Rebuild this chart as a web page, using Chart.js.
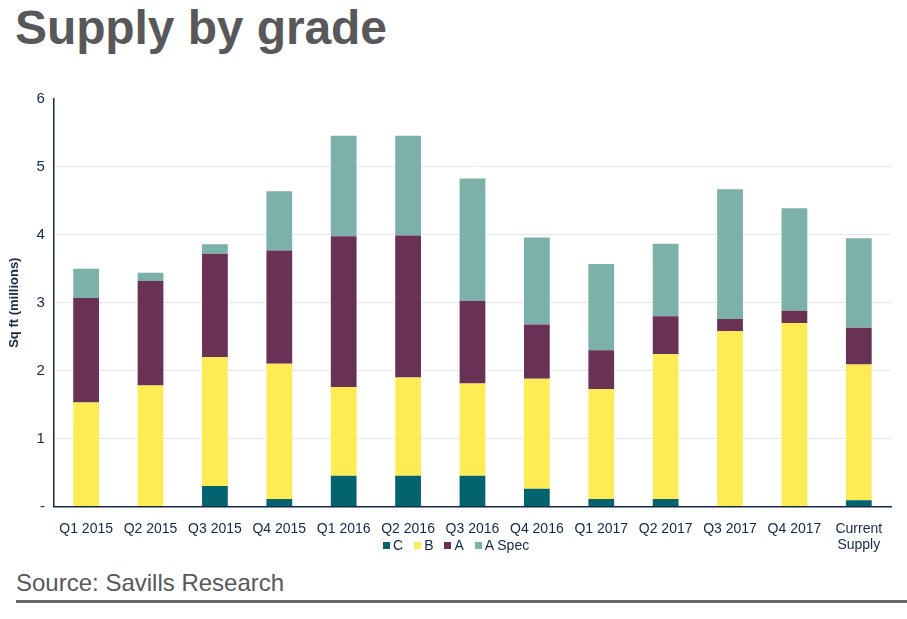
<!DOCTYPE html>
<html lang="en">
<head>
    <meta charset="UTF-8">
    <title>Supply by grade</title>
    <style>
        body {
            margin: 0;
            width: 907px;
            height: 619px;
            background: #fff;
            font-family: "Liberation Sans", Arial, sans-serif;
            position: relative;
            overflow: hidden;
        }
        .title {
            position: absolute;
            left: 15px;
            top: 0;
            font-size: 48px;
            font-weight: bold;
            color: #58585a;
            letter-spacing: -0.1px;
        }
        .chart-box {
            position: absolute;
            left: 0;
            top: 81px;
            width: 907px;
            height: 479px;
        }
        .legend {
            position: absolute;
            left: 383px;
            top: 537px;
            display: flex;
            font-size: 14px;
            color: #14284b;
            line-height: 16px;
        }
        .legend span.item { display: flex; align-items: center; margin-right: 11px; }
        .legend i { display: inline-block; width: 7px; height: 7px; margin-right: 3px; }
        .source {
            position: absolute;
            left: 16px;
            top: 569px;
            font-size: 24px;
            color: #58585a;
        }
        .rule {
            position: absolute;
            left: 16px;
            right: 0;
            top: 600px;
            height: 3px;
            background: #68686c;
        }
    </style>
</head>
<body>
    <div class="title">Supply by grade</div>
    <div class="chart-box"><canvas id="myChart"></canvas></div>
    <div class="legend" id="legend"></div>
    <div class="source">Source: Savills Research</div>
    <div class="rule"></div>

<script src="https://cdn.jsdelivr.net/npm/chart.js@4.4.0/dist/chart.umd.min.js"></script>
<script>
// quarters
const labels = ['Q1 2015', 'Q2 2015', 'Q3 2015', 'Q4 2015', 'Q1 2016', 'Q2 2016', 'Q3 2016',
    'Q4 2016', 'Q1 2017', 'Q2 2017', 'Q3 2017', 'Q4 2017', ['Current', 'Supply']];

// sq ft, millions
const gradeC     = [0,    0,    0.30, 0.11, 0.45, 0.45, 0.45, 0.26, 0.11, 0.11, 0,    0,    0.09];
const gradeB     = [1.53, 1.78, 1.90, 1.99, 1.31, 1.45, 1.36, 1.62, 1.62, 2.13, 2.58, 2.70, 2.00];
const gradeA     = [1.54, 1.54, 1.52, 1.67, 2.22, 2.09, 1.22, 0.80, 0.57, 0.56, 0.18, 0.18, 0.54];
const gradeASpec = [0.43, 0.12, 0.14, 0.87, 1.48, 1.47, 1.80, 1.28, 1.27, 1.07, 1.91, 1.51, 1.32];

const yTicks = [0, 1, 2, 3, 4, 5, 6];

const navy = '#14284b';
const font = '"Liberation Sans", Arial';

var ctx = document.getElementById('myChart').getContext('2d');
var myChart = new Chart(ctx, {
    type: 'bar',
    data: {
        labels: labels,
        datasets: [
            { label: 'C', data: gradeC, backgroundColor: '#03646f' },
            { label: 'B', data: gradeB, backgroundColor: '#ffec55' },
            { label: 'A', data: gradeA, backgroundColor: '#683155' },
            { label: 'A Spec', data: gradeASpec, backgroundColor: '#7bb1a9' }
        ]
    },
    options: {
        responsive: true,
        maintainAspectRatio: false,
        animation: false,
        datasets: {
            bar: { barPercentage: 0.4, categoryPercentage: 1 }
        },
        layout: { padding: { left: 7, right: 16, top: 11, bottom: 0 } },
        plugins: {
            legend: { display: false },
            tooltip: { enabled: false }
        },
        scales: {
            x: {
                stacked: true,
                grid: { display: false },
                border: { color: navy, width: 1.5 },
                ticks: {
                    color: navy,
                    maxRotation: 0,
                    autoSkip: false,
                    padding: 6,
                    font: { family: font, size: 14 }
                }
            },
            y: {
                stacked: true,
                min: 0,
                max: 6,
                afterBuildTicks: (axis) => {
                    axis.ticks = yTicks.map(v => ({ value: v }));
                },
                border: { color: navy, width: 1.5 },
                grid: {
                    drawTicks: false,
                    color: (c) => (c.tick && (c.tick.value === 0 || c.tick.value === 6)) ? 'rgba(0,0,0,0)' : '#e8e8e8'
                },
                ticks: {
                    color: navy,
                    padding: 9,
                    font: { family: font, size: 15 },
                    callback: (v) => v === 0 ? '-' : v
                },
                title: {
                    display: true,
                    text: 'Sq ft (millions)',
                    color: navy,
                    padding: { top: 0, bottom: 5 },
                    font: { family: font, size: 13, weight: 'bold' }
                }
            }
        }
    }
});

// legend drawn as html so it can sit beside the two-line last label
document.getElementById('legend').innerHTML = myChart.data.datasets.map(d =>
    '<span class="item"><i style="background:' + d.backgroundColor + '"></i>' + d.label + '</span>'
).join('');
</script>
</body>
</html>
